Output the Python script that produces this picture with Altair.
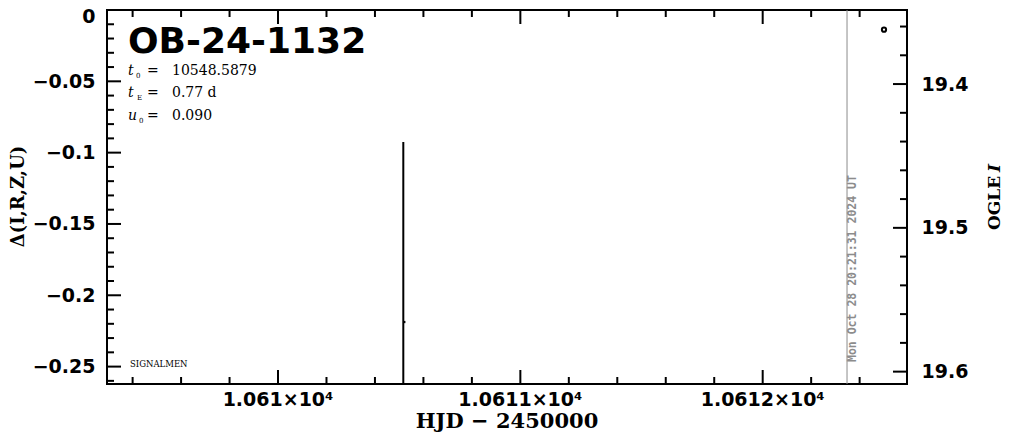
import altair as alt
import pandas as pd

# ---------------- data ----------------
ogle_hjd = [10610.517]
ogle_mag = [19.5655]
ogle_err = [0.1252]

extra_hjd = [10612.5006]
extra_mag = [19.3622]

now_hjd = [10612.348]
now_label = ["Mon Oct 28 20:21:31 2024 UT"]

x_major = [10610, 10611, 10612]
x_major_labels = ["1.061×10⁴", "1.0611×10⁴", "1.0612×10⁴"]
x_minor = [10609.4, 10609.6, 10609.8, 10610.2, 10610.4, 10610.6, 10610.8,
           10611.2, 10611.4, 10611.6, 10611.8, 10612.2, 10612.4]
left_major = [0.0, -0.05, -0.10, -0.15, -0.20, -0.25]
left_minor = [-0.01, -0.02, -0.03, -0.04, -0.06, -0.07, -0.08, -0.09,
              -0.11, -0.12, -0.13, -0.14, -0.16, -0.17, -0.18, -0.19,
              -0.21, -0.22, -0.23, -0.24, -0.26]
right_major = [19.4, 19.5, 19.6]
right_minor = [19.36, 19.38, 19.42, 19.44, 19.46, 19.48,
               19.52, 19.54, 19.56, 19.58]

# ---------------- layout ----------------
W, H = 800, 374
X_DOMAIN = [10609.2943, 10612.5955]
DY_DOMAIN = [-0.2622, 0.0]
MAG_DOMAIN = [19.3485, 19.6086]
MAJ, MIN = 14, 7

xs = alt.Scale(domain=X_DOMAIN, nice=False, zero=False)
ys_left = alt.Scale(domain=DY_DOMAIN, nice=False, zero=False)
ys_mag = alt.Scale(domain=MAG_DOMAIN, nice=False, zero=False, reverse=True)

SANS = "DejaVu Sans"
SERIF = "DejaVu Serif"

left_axis = alt.Axis(
    orient="left", values=left_major, format=".2~f", ticks=False, domain=False,
    grid=False, labelFont=SANS, labelFontWeight="bold", labelFontSize=19,
    labelColor="black", labelPadding=12, labelFlush=False, labelOverlap=False,
    labelOffset={"condition": {"test": "datum.value === 0", "value": 6}, "value": 0},
    title="Δ(I,R,Z,U)", titleFont=SERIF, titleFontSize=18, titleFontWeight="bold",
    titleColor="black", titleAngle=270, titleX=-89, titleY=186,
    titleAlign="center", titleBaseline="middle")

right_axis = alt.Axis(
    orient="right", values=right_major, format=".1f", ticks=False, domain=False,
    grid=False, labelFont=SANS, labelFontWeight="bold", labelFontSize=19,
    labelColor="black", labelPadding=14, labelFlush=False, labelOverlap=False,
    title=None)


def df(**cols):
    return pd.DataFrame(cols)


# ticks on left (delta scale)
left_maj = alt.Chart(df(v=left_major)).mark_rule(color="black", strokeWidth=2).encode(
    y=alt.Y("v:Q", scale=ys_left, axis=left_axis), x=alt.value(0), x2=alt.value(MAJ))
left_min = alt.Chart(df(v=left_minor)).mark_rule(color="black", strokeWidth=2).encode(
    y=alt.Y("v:Q", scale=ys_left, axis=None), x=alt.value(0), x2=alt.value(MIN))

# ticks on right (magnitude scale)
right_maj = alt.Chart(df(v=right_major)).mark_rule(color="black", strokeWidth=2).encode(
    y=alt.Y("v:Q", scale=ys_mag, axis=right_axis), x=alt.value(W), x2=alt.value(W - MAJ))
right_min = alt.Chart(df(v=right_minor)).mark_rule(color="black", strokeWidth=2).encode(
    y=alt.Y("v:Q", scale=ys_mag, axis=None), x=alt.value(W), x2=alt.value(W - MIN))

# ticks on bottom and top, bottom tick labels
xlab_df = df(v=x_major, lab=x_major_labels)
bot_maj = alt.Chart(xlab_df).mark_rule(color="black", strokeWidth=2).encode(
    x=alt.X("v:Q", scale=xs, axis=None), y=alt.value(H), y2=alt.value(H - MAJ))
bot_min = alt.Chart(df(v=x_minor)).mark_rule(color="black", strokeWidth=2).encode(
    x=alt.X("v:Q", scale=xs, axis=None), y=alt.value(H), y2=alt.value(H - MIN))
top_maj = alt.Chart(df(v=x_major)).mark_rule(color="black", strokeWidth=2).encode(
    x=alt.X("v:Q", scale=xs, axis=None), y=alt.value(0), y2=alt.value(MAJ))
top_min = alt.Chart(df(v=x_minor)).mark_rule(color="black", strokeWidth=2).encode(
    x=alt.X("v:Q", scale=xs, axis=None), y=alt.value(0), y2=alt.value(MIN))
bot_lab = alt.Chart(xlab_df).mark_text(
    font=SANS, fontWeight="bold", fontSize=19, color="black",
    align="center", baseline="top").encode(
    x=alt.X("v:Q", scale=xs, axis=None), y=alt.value(H + 7), text="lab:N")

# data
ogle = df(hjd=ogle_hjd, mag=ogle_mag, err=ogle_err)
ogle["lo"] = ogle["mag"] - ogle["err"]
ogle["hi"] = ogle["mag"] + ogle["err"]

errbar = alt.Chart(ogle).mark_rule(color="black", strokeWidth=2, clip=True).encode(
    x=alt.X("hjd:Q", scale=xs, axis=None),
    y=alt.Y("lo:Q", scale=ys_mag, axis=None), y2="hi:Q")
errpt = alt.Chart(ogle).mark_square(color="black", size=5, opacity=1, xOffset=1).encode(
    x=alt.X("hjd:Q", scale=xs, axis=None),
    y=alt.Y("mag:Q", scale=ys_mag, axis=None))
extra = alt.Chart(df(hjd=extra_hjd, mag=extra_mag)).mark_point(
    shape="circle", size=18, strokeWidth=2, color="black", filled=False, opacity=1).encode(
    x=alt.X("hjd:Q", scale=xs, axis=None),
    y=alt.Y("mag:Q", scale=ys_mag, axis=None))

# "now" line and date label
now_df = df(hjd=now_hjd, t=now_label)
now_line = alt.Chart(now_df).mark_rule(color="#8c8c8c", strokeWidth=1).encode(
    x=alt.X("hjd:Q", scale=xs, axis=None), y=alt.value(0), y2=alt.value(H))
now_text = alt.Chart(now_df).mark_text(
    font="DejaVu Sans Mono", fontWeight="bold", fontSize=11.5, color="#8c8c8c",
    angle=270, align="left", baseline="middle", dy=6).encode(
    x=alt.X("hjd:Q", scale=xs, axis=None), y=alt.value(352), text="t:N")


def ann(text, x, y, size, font=SERIF, weight="normal", style="normal",
        angle=0, align="left", baseline="alphabetic", color="black"):
    return alt.Chart(df(t=[text])).mark_text(
        fontSize=size, font=font, fontWeight=weight, fontStyle=style,
        angle=angle, align=align, baseline=baseline, color=color).encode(
        x=alt.value(x), y=alt.value(y), text="t:N")


texts = [
    ann("OB-24-1132", 21, 43, 36, font=SANS, weight="bold"),
    ann("t", 21, 65, 14, style="italic"),
    ann("0", 29, 68, 7),
    ann("=", 40, 65, 14),
    ann("10548.5879", 65, 65, 14),
    ann("t", 21, 87, 14, style="italic"),
    ann("E", 30, 90, 7),
    ann("=", 40, 87, 14),
    ann("0.77 d", 65, 87, 14),
    ann("u", 21, 110, 14, style="italic"),
    ann("0", 32, 113, 7),
    ann("=", 40, 110, 14),
    ann("0.090", 65, 110, 14),
    ann("SIGNALMEN", 23, 357, 8.5),
    ann("OGLE", 888, 220, 17, weight="bold", angle=270, baseline="middle"),
    ann("I", 888, 162, 17, weight="bold", style="italic", angle=270, baseline="middle"),
    ann("HJD  −  2450000", 400, 418, 21, weight="bold", align="center",
        baseline="alphabetic"),
]

chart = alt.layer(
    left_maj, left_min, right_maj, right_min,
    bot_maj, bot_min, top_maj, top_min, bot_lab,
    now_line, now_text, errbar, errpt, extra, *texts
).resolve_scale(y="independent").properties(
    width=W, height=H,
    autosize=alt.AutoSizeParams(type="none"),
    padding={"left": 99, "top": 2, "right": 96, "bottom": 50},
    background="white",
).configure_view(stroke="black", strokeWidth=2)

chart.save("out.html", embed_options={"renderer": "svg", "actions": False})
